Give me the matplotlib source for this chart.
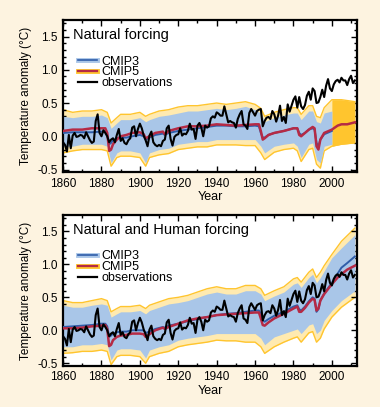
import matplotlib
matplotlib.use("Agg")
import matplotlib.pyplot as plt
from matplotlib.lines import Line2D
from matplotlib.ticker import MultipleLocator
import numpy as np

# ---------------- data ----------------
obs_years = list(range(1860, 2013))
obs = [-0.09, -0.13, -0.23, 0.02, -0.18, 0.01, 0.05, -0.01, 0.00, 0.02,
       0.01, -0.03, 0.06, 0.00, -0.06, -0.10, -0.08, 0.23, 0.33, 0.05,
       0.00, 0.09, 0.05, 0.00, -0.09, -0.05, -0.03, -0.09, 0.02, 0.11,
       -0.07, -0.03, -0.10, -0.12, -0.06, -0.03, 0.13, 0.15, 0.00, 0.11,
       0.19, 0.12, 0.01, -0.06, -0.15, 0.01, 0.07, -0.09, -0.13, -0.15,
       -0.13, -0.15, -0.07, -0.05, 0.12, 0.16, -0.04, -0.14, -0.01, 0.02,
       0.03, 0.12, 0.01, 0.04, 0.03, 0.08, 0.19, 0.10, 0.11, -0.04,
       0.16, 0.20, 0.13, 0.00, 0.16, 0.13, 0.15, 0.27, 0.30, 0.28,
       0.36, 0.34, 0.31, 0.31, 0.45, 0.33, 0.21, 0.23, 0.21, 0.20,
       0.13, 0.26, 0.33, 0.38, 0.18, 0.16, 0.11, 0.35, 0.41, 0.36,
       0.31, 0.38, 0.40, 0.41, 0.15, 0.23, 0.28, 0.29, 0.26, 0.38,
       0.33, 0.22, 0.31, 0.46, 0.23, 0.29, 0.20, 0.48, 0.37, 0.46,
       0.55, 0.60, 0.43, 0.59, 0.45, 0.41, 0.47, 0.61, 0.67, 0.55,
       0.72, 0.68, 0.50, 0.51, 0.59, 0.70, 0.59, 0.76, 0.86, 0.72,
       0.68, 0.78, 0.83, 0.85, 0.81, 0.88, 0.84, 0.84, 0.77, 0.86,
       0.91, 0.80, 0.84]

mean_years = [1860, 1865, 1870, 1875, 1880, 1882, 1883, 1884, 1885, 1886,
              1888, 1890, 1893, 1896, 1900, 1902, 1903, 1905, 1908, 1912,
              1913, 1915, 1920, 1925, 1930, 1935, 1940, 1945, 1950, 1955,
              1960, 1962, 1963, 1964, 1965, 1967, 1970, 1975, 1980, 1982,
              1983, 1984, 1986, 1988, 1990, 1991, 1992, 1993, 1994, 1996,
              2000, 2003, 2005, 2008, 2012]

nat_cmip5_mean = [0.08, 0.10, 0.10, 0.12, 0.12, 0.12, 0.05, -0.22, -0.20, -0.12,
                  -0.05, 0.00, 0.02, 0.05, 0.06, 0.03, -0.03, 0.00, 0.05, 0.07,
                  0.03, 0.08, 0.12, 0.15, 0.15, 0.16, 0.18, 0.17, 0.16, 0.17,
                  0.18, 0.18, 0.08, -0.05, -0.03, 0.02, 0.05, 0.08, 0.12, 0.12,
                  0.02, 0.00, 0.05, 0.10, 0.14, 0.12, -0.15, -0.20, -0.05, 0.05,
                  0.10, 0.16, 0.18, 0.18, 0.21]

nat_cmip3_mean = [0.05, 0.06, 0.06, 0.06, 0.07, 0.07, 0.02, -0.12, -0.10, -0.06,
                  -0.03, -0.02, -0.02, 0.00, 0.02, 0.00, -0.05, -0.02, 0.02, 0.04,
                  0.02, 0.05, 0.08, 0.10, 0.12, 0.14, 0.16, 0.16, 0.15, 0.15,
                  0.16, 0.15, 0.05, -0.02, -0.02, 0.02, 0.05, 0.08, 0.12, 0.12,
                  0.05, 0.02, 0.05, 0.10, 0.12, 0.10, -0.10, -0.15, -0.05, 0.03,
                  0.08]

all_cmip5_mean = [0.03, 0.03, 0.04, 0.06, 0.07, 0.08, 0.02, -0.24, -0.22, -0.15,
                  -0.10, -0.08, -0.07, -0.05, -0.05, -0.06, -0.10, -0.06, 0.00, 0.04,
                  0.02, 0.05, 0.10, 0.15, 0.18, 0.20, 0.23, 0.24, 0.25, 0.26,
                  0.27, 0.27, 0.18, 0.08, 0.07, 0.12, 0.18, 0.25, 0.33, 0.36,
                  0.28, 0.28, 0.34, 0.42, 0.48, 0.46, 0.30, 0.33, 0.45, 0.55,
                  0.70, 0.80, 0.85, 0.92, 0.98]

all_cmip3_mean = [0.05, 0.06, 0.07, 0.08, 0.10, 0.10, 0.06, -0.10, -0.08, -0.05,
                  -0.03, -0.02, -0.02, 0.00, 0.00, 0.00, -0.04, -0.02, 0.02, 0.05,
                  0.04, 0.07, 0.10, 0.14, 0.17, 0.20, 0.23, 0.25, 0.26, 0.28,
                  0.30, 0.30, 0.25, 0.15, 0.13, 0.17, 0.22, 0.28, 0.36, 0.38,
                  0.32, 0.30, 0.36, 0.44, 0.50, 0.48, 0.28, 0.32, 0.45, 0.56,
                  0.72, 0.86, 0.95, 1.02, 1.12]

band_years = [1860, 1865, 1870, 1875, 1880, 1883, 1885, 1888, 1890, 1895,
              1900, 1903, 1905, 1910, 1915, 1920, 1925, 1930, 1935, 1940,
              1945, 1950, 1955, 1960, 1963, 1965, 1970, 1975, 1980, 1982,
              1984, 1988, 1990, 1992, 1994, 1996, 2000, 2005, 2012]

nat_cmip3_lo = [-0.15, -0.15, -0.12, -0.12, -0.12, -0.15, -0.40, -0.25, -0.22, -0.22,
                -0.25, -0.40, -0.25, -0.20, -0.18, -0.12, -0.10, -0.08, -0.08, -0.05,
                -0.05, -0.05, -0.05, -0.05, -0.15, -0.25, -0.15, -0.12, -0.10, -0.15,
                -0.32, -0.12, -0.10, -0.35, -0.40, -0.15, -0.12]
nat_cmip3_hi = [0.30, 0.28, 0.30, 0.30, 0.32, 0.28, 0.12, 0.20, 0.25, 0.25,
                0.28, 0.22, 0.25, 0.30, 0.32, 0.35, 0.38, 0.38, 0.40, 0.42,
                0.40, 0.42, 0.45, 0.40, 0.35, 0.22, 0.28, 0.32, 0.35, 0.35,
                0.25, 0.38, 0.38, 0.22, 0.20, 0.35, 0.38]
nat_cmip5_lo = [-0.25, -0.22, -0.20, -0.20, -0.20, -0.22, -0.45, -0.32, -0.30, -0.30,
                -0.32, -0.45, -0.32, -0.28, -0.26, -0.20, -0.18, -0.16, -0.16, -0.13,
                -0.13, -0.13, -0.14, -0.14, -0.25, -0.35, -0.24, -0.20, -0.18, -0.22,
                -0.38, -0.20, -0.18, -0.42, -0.48, -0.22, -0.15, -0.12, -0.10]
nat_cmip5_hi = [0.40, 0.36, 0.38, 0.38, 0.40, 0.36, 0.20, 0.28, 0.33, 0.33,
                0.36, 0.30, 0.33, 0.38, 0.40, 0.44, 0.46, 0.46, 0.48, 0.50,
                0.48, 0.50, 0.52, 0.48, 0.42, 0.30, 0.36, 0.40, 0.43, 0.43,
                0.33, 0.46, 0.46, 0.30, 0.28, 0.43, 0.55, 0.55, 0.52]

all_cmip3_lo = [-0.25, -0.25, -0.22, -0.22, -0.20, -0.22, -0.45, -0.30, -0.28, -0.28,
                -0.30, -0.42, -0.30, -0.25, -0.22, -0.15, -0.12, -0.10, -0.08, -0.05,
                -0.05, -0.05, -0.05, -0.05, -0.12, -0.22, -0.10, -0.05, 0.00, 0.02,
                -0.05, 0.08, 0.10, -0.05, 0.00, 0.15, 0.30, 0.45, 0.60]
all_cmip3_hi = [0.38, 0.35, 0.35, 0.38, 0.40, 0.38, 0.20, 0.25, 0.28, 0.28,
                0.30, 0.25, 0.30, 0.35, 0.40, 0.42, 0.45, 0.50, 0.55, 0.58,
                0.55, 0.55, 0.60, 0.60, 0.55, 0.45, 0.52, 0.58, 0.70, 0.72,
                0.65, 0.80, 0.85, 0.72, 0.80, 0.90, 1.10, 1.25, 1.45]
all_cmip5_lo = [-0.35, -0.34, -0.32, -0.32, -0.30, -0.32, -0.52, -0.40, -0.38, -0.38,
                -0.40, -0.50, -0.40, -0.35, -0.32, -0.25, -0.22, -0.20, -0.18, -0.15,
                -0.16, -0.16, -0.18, -0.18, -0.25, -0.35, -0.25, -0.18, -0.12, -0.10,
                -0.18, -0.04, -0.02, -0.18, -0.12, 0.02, 0.20, 0.35, 0.50]
all_cmip5_hi = [0.45, 0.42, 0.42, 0.45, 0.48, 0.45, 0.28, 0.33, 0.36, 0.36,
                0.38, 0.33, 0.38, 0.43, 0.48, 0.50, 0.53, 0.58, 0.63, 0.66,
                0.63, 0.63, 0.68, 0.68, 0.63, 0.53, 0.60, 0.66, 0.78, 0.80,
                0.73, 0.88, 0.93, 0.80, 0.88, 0.98, 1.15, 1.35, 1.55]

panel_titles = ["Natural forcing", "Natural and Human forcing"]
legend_labels = ["CMIP3", "CMIP5", "observations"]
x_ticks = [1860, 1880, 1900, 1920, 1940, 1960, 1980, 2000]
y_ticks = [-0.5, 0.0, 0.5, 1.0, 1.5]

# ---------------- styles ----------------
BG = "#FDF3E0"
YEL = "#FFC52E"
YEL_FILL = "#FFEAB0"
LBLUE = "#A9C6E8"
DBLUE = "#2F5DA9"
RED = "#B52A45"

plt.rcParams['font.family'] = ['Liberation Sans', 'DejaVu Sans']
fig = plt.figure(figsize=(3.8, 4.07), dpi=100, facecolor=BG)

positions = [[0.166, 0.577, 0.773, 0.374], [0.166, 0.101, 0.773, 0.371]]

panels = [
    (nat_cmip3_lo, nat_cmip3_hi, nat_cmip5_lo, nat_cmip5_hi, nat_cmip3_mean, nat_cmip5_mean),
    (all_cmip3_lo, all_cmip3_hi, all_cmip5_lo, all_cmip5_hi, all_cmip3_mean, all_cmip5_mean),
]

for i, (c3lo, c3hi, c5lo, c5hi, c3m, c5m) in enumerate(panels):
    ax = fig.add_axes(positions[i])
    ax.set_facecolor("white")
    by5 = band_years[:len(c5lo)]
    by3 = band_years[:len(c3lo)]
    ax.fill_between(by5, c5lo, c5hi, color=YEL_FILL, lw=0, zorder=1)
    ax.plot(by5, c5lo, color=YEL, lw=1.0, zorder=1.5)
    ax.plot(by5, c5hi, color=YEL, lw=1.0, zorder=1.5)
    if i == 0:
        ax.fill_between(by5[-3:], c5lo[-3:], c5hi[-3:], color=YEL, lw=0, zorder=1.6)
    ax.fill_between(by3, c3lo, c3hi, color=LBLUE, lw=0, zorder=2)
    ax.plot(mean_years[:len(c3m)], c3m, color=DBLUE, lw=1.4, zorder=3)
    ax.plot(mean_years[:len(c5m)], c5m, color=RED, lw=1.8, zorder=4)
    ax.plot(obs_years, obs, color="black", lw=1.5, zorder=5)

    ax.set_xlim(1860, 2013)
    ax.set_ylim(-0.54, 1.75)
    ax.set_xticks(x_ticks)
    ax.set_yticks(y_ticks)
    ax.set_yticklabels([f"{v:.1f}" for v in y_ticks])
    ax.xaxis.set_minor_locator(MultipleLocator(10))
    ax.yaxis.set_minor_locator(MultipleLocator(0.1))
    ax.tick_params(which="both", direction="in", top=True, right=True,
                   labelsize=8.5, width=1.0, pad=4)
    ax.tick_params(which="major", length=4.5)
    ax.tick_params(which="minor", length=2.5)
    for s in ax.spines.values():
        s.set_linewidth(1.6)
    ax.set_xlabel("Year", fontsize=9, labelpad=1)
    ax.set_ylabel("Temperature anomaly (°C)", fontsize=8.5, labelpad=4)

    ax.text(0.035, 0.9, panel_titles[i], transform=ax.transAxes,
            fontsize=10.5, va="center", ha="left")

    h3 = (Line2D([], [], color=LBLUE, lw=3.5), Line2D([], [], color=DBLUE, lw=1.2))
    h5 = (Line2D([], [], color=YEL, lw=3.5), Line2D([], [], color=RED, lw=1.6))
    ho = Line2D([], [], color="black", lw=1.6)
    leg = ax.legend([h3, h5, ho], legend_labels, loc="upper left",
                    bbox_to_anchor=(0.05, 0.765), frameon=False, fontsize=9,
                    handlelength=1.5, handletextpad=0.4, labelspacing=-0.1,
                    borderaxespad=0.0, borderpad=0.0)

fig.savefig("out.png", dpi=100, facecolor=BG)
